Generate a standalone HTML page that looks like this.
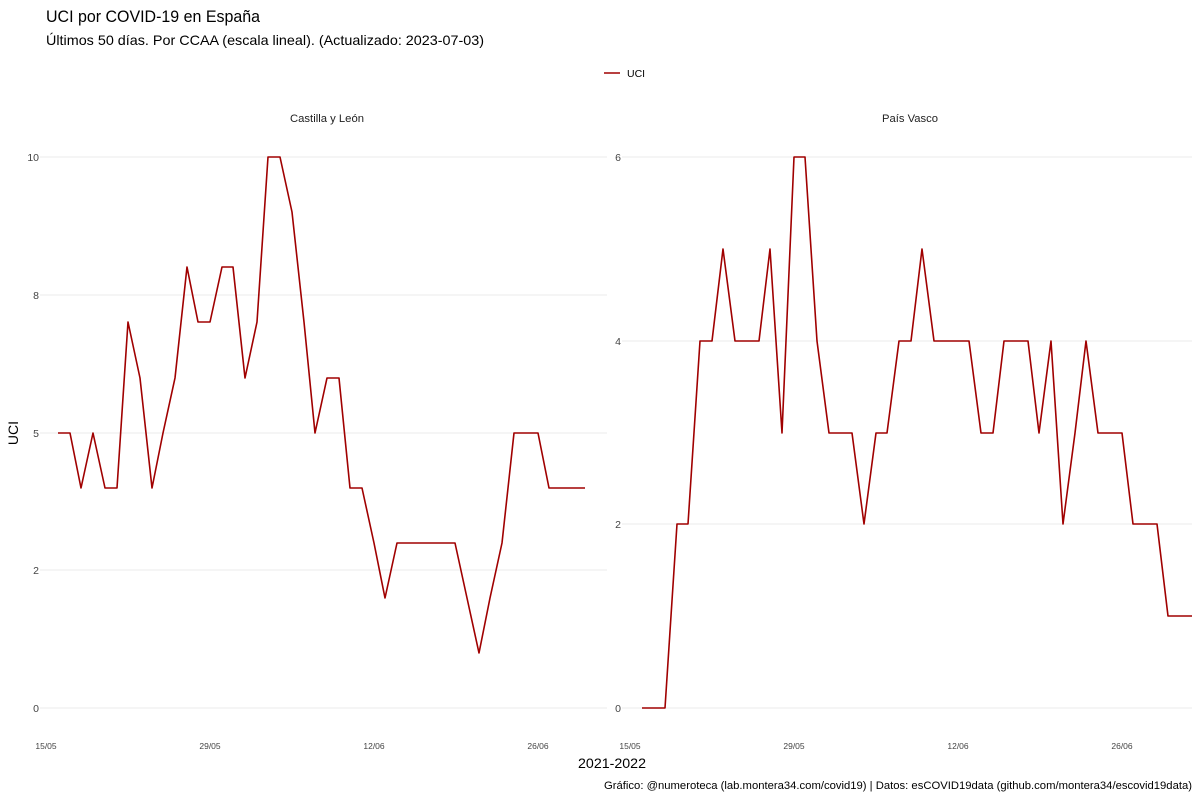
<!DOCTYPE html>
<html><head><meta charset="utf-8"><style>
html,body{margin:0;padding:0;background:#fff;}
svg{display:block;font-family:"Liberation Sans",sans-serif;}
</style></head><body>
<svg width="1200" height="800" viewBox="0 0 1200 800" xmlns="http://www.w3.org/2000/svg">
<rect width="1200" height="800" fill="#fff"/>
<text x="46" y="22" font-size="17" fill="#000" textLength="214" lengthAdjust="spacingAndGlyphs">UCI por COVID-19 en España</text>
<text x="46" y="45" font-size="14" fill="#000" textLength="438" lengthAdjust="spacingAndGlyphs">Últimos 50 días. Por CCAA (escala lineal). (Actualizado: 2023-07-03)</text>
<line x1="604" y1="73" x2="620" y2="73" stroke="#a00000" stroke-width="1.5"/>
<text x="627" y="77" font-size="10.5" fill="#000">UCI</text>
<text x="327" y="122" font-size="11" fill="#222" text-anchor="middle" textLength="74" lengthAdjust="spacingAndGlyphs">Castilla y León</text>
<text x="910" y="122" font-size="11" fill="#222" text-anchor="middle" textLength="56" lengthAdjust="spacingAndGlyphs">País Vasco</text>
<g stroke="#ebebeb" stroke-width="1">
<line x1="40" y1="157" x2="607" y2="157"/><line x1="40" y1="295" x2="607" y2="295"/><line x1="40" y1="433" x2="607" y2="433"/><line x1="40" y1="570" x2="607" y2="570"/><line x1="40" y1="708" x2="607" y2="708"/>
<line x1="622" y1="157" x2="1192" y2="157"/><line x1="622" y1="341" x2="1192" y2="341"/><line x1="622" y1="524" x2="1192" y2="524"/><line x1="622" y1="708" x2="1192" y2="708"/>
</g>
<g font-size="10.5" fill="#444" text-anchor="end">
<text x="39" y="161">10</text><text x="39" y="299">8</text><text x="39" y="437">5</text><text x="39" y="574">2</text><text x="39" y="712">0</text>
<text x="621" y="161">6</text><text x="621" y="345">4</text><text x="621" y="528">2</text><text x="621" y="712">0</text>
</g>
<g font-size="8.5" fill="#444" text-anchor="middle">
<text x="46" y="749">15/05</text><text x="210" y="749">29/05</text><text x="374" y="749">12/06</text><text x="538" y="749">26/06</text>
<text x="630" y="749">15/05</text><text x="794" y="749">29/05</text><text x="958" y="749">12/06</text><text x="1122" y="749">26/06</text>
</g>
<text x="612" y="768" font-size="14" fill="#000" text-anchor="middle" textLength="68" lengthAdjust="spacingAndGlyphs">2021-2022</text>
<text x="18" y="433" font-size="14" fill="#000" text-anchor="middle" transform="rotate(-90 18 433)">UCI</text>
<text x="1192" y="789" font-size="11" fill="#000" text-anchor="end" textLength="588" lengthAdjust="spacingAndGlyphs">Gráfico: @numeroteca (lab.montera34.com/covid19) | Datos: esCOVID19data (github.com/montera34/escovid19data)</text>
<g fill="none" stroke="#a00000" stroke-width="1.6" stroke-linejoin="round">
<polyline points="58,433 70,433 81,488 93,433 105,488 117,488 128,322 140,378 152,488 163,433 175,378 187,267 198,322 210,322 222,267 233,267 245,378 257,322 268,157 280,157 292,212 304,322 315,433 327,378 339,378 350,488 362,488 374,543 385,598 397,543 409,543 421,543 432,543 444,543 455,543 467,598 479,653 490,598 502,543 514,433 526,433 538,433 549,488 561,488 573,488 585,488"/>
<polyline points="642,708 653,708 665,708 677,524 688,524 700,341 712,341 723,249 735,341 747,341 759,341 770,249 782,433 794,157 805,157 817,341 829,433 840,433 852,433 864,524 876,433 887,433 899,341 911,341 922,249 934,341 946,341 958,341 969,341 981,433 993,433 1004,341 1016,341 1028,341 1039,433 1051,341 1063,524 1075,433 1086,341 1098,433 1110,433 1122,433 1133,524 1145,524 1157,524 1168,616 1180,616 1192,616"/>
</g>
</svg>
</body></html>
